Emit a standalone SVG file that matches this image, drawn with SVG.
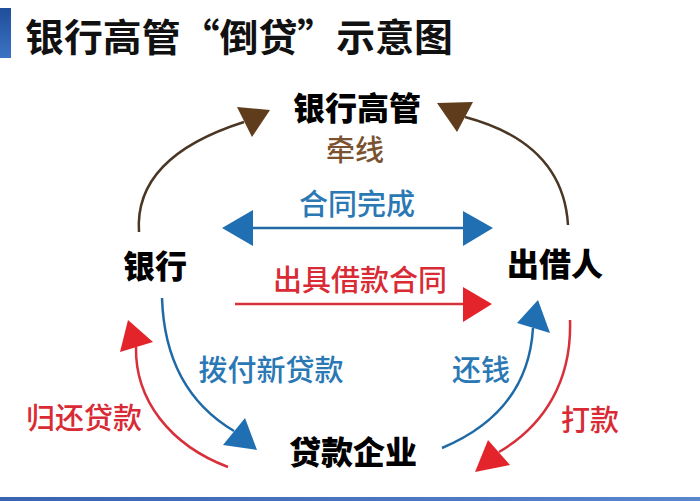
<svg xmlns="http://www.w3.org/2000/svg" width="700" height="501" viewBox="0 0 700 501">
<defs>
<linearGradient id="bar" x1="0" y1="0" x2="0" y2="1">
<stop offset="0" stop-color="#1f4e9a"/>
<stop offset="1" stop-color="#3b74c4"/>
</linearGradient>
<linearGradient id="bot" x1="0" y1="0" x2="1" y2="0">
<stop offset="0" stop-color="#3a63b0"/>
<stop offset="1" stop-color="#5a86cc"/>
</linearGradient>
</defs>
<style>
text{font-family:"Noto Sans CJK SC","Noto Sans",sans-serif;text-anchor:middle}
.node{font-size:32px;font-weight:900;fill:#000}
.lbl{font-size:29px;font-weight:500}
.brown{fill:#7a5230}
.blue{fill:#2a78b4}
.red{fill:#d92b35}
.ln{fill:none;stroke-width:2.5}
.lb{stroke:#4a3622}
.lu{stroke:#1f6aa6}
.lr{stroke:#d8303a}
.hb{fill:#5e3c1c}
.hu{fill:#1f6fb2}
.hr{fill:#e3242b}
</style>
<rect width="700" height="501" fill="#ffffff"/>
<g id="title">
<rect x="0" y="8" width="11" height="50" fill="url(#bar)"/>
<text x="239" y="51" style="font-size:38px;font-weight:700;fill:#111" textLength="428" lengthAdjust="spacingAndGlyphs">银行高管“倒贷”示意图</text>
</g>
<rect x="0" y="497" width="700" height="4" fill="url(#bot)"/>
<g id="connectors">
<path class="ln lb" d="M139,232 Q134,157 244,122"/>
<polygon class="hb" points="270,110 237,107 252,137"/>
<path class="ln lb" d="M568,225 Q563,143 465,117"/>
<polygon class="hb" points="437,103 473,102 457,132"/>
<line class="ln lu" x1="250" y1="228" x2="466" y2="228"/>
<polygon class="hu" points="222,228 253,210 253,246"/>
<polygon class="hu" points="493,228 463,211 463,246"/>
<line class="ln lr" x1="235" y1="304" x2="466" y2="304"/>
<polygon class="hr" points="492,304 463,287 463,322"/>
<path class="ln lu" d="M162,298 Q165,390 234,431"/>
<polygon class="hu" points="257,450 223,445 245,418"/>
<path class="ln lr" d="M228,467 C170,445 135,400 136,347"/>
<polygon class="hr" points="128,320 120,352 153,342"/>
<path class="ln lu" d="M442,448 Q528,412 533,328"/>
<polygon class="hu" points="538,300 517,323 550,333"/>
<path class="ln lr" d="M570,320 C572,380 545,425 499,452"/>
<polygon class="hr" points="475,472 488,440 510,465"/>
</g>
<g id="n-gaoguan"><text class="node" x="357" y="120">银行高管</text></g>
<g id="n-bank"><text class="node" x="155" y="278">银行</text></g>
<g id="n-lender"><text class="node" x="555" y="276">出借人</text></g>
<g id="n-company"><text class="node" x="353" y="464">贷款企业</text></g>
<g id="labels">
<text class="lbl brown" x="355" y="161">牵线</text>
<text class="lbl blue" x="357" y="215">合同完成</text>
<text class="lbl red" x="360" y="291">出具借款合同</text>
<text class="lbl blue" x="271" y="381">拨付新贷款</text>
<text class="lbl red" x="84" y="429">归还贷款</text>
<text class="lbl blue" x="481" y="381">还钱</text>
<text class="lbl red" x="590" y="431">打款</text>
</g>
</svg>
